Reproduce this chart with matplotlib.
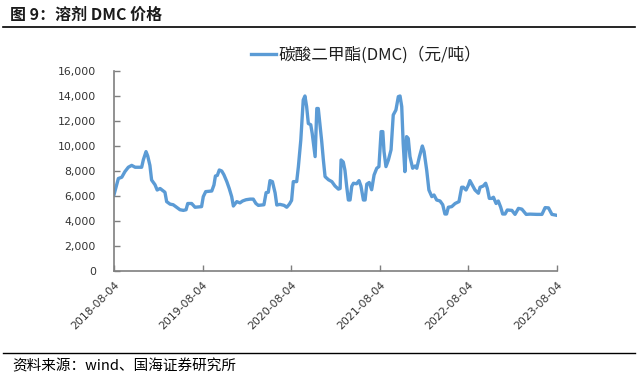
import matplotlib
matplotlib.use("Agg")
import matplotlib.pyplot as plt
from matplotlib.ticker import FuncFormatter
from matplotlib.lines import Line2D
import pandas as pd

plt.rcParams['font.family'] = ['Noto Sans CJK SC', 'DejaVu Sans']

title_text = "图 9：溶剂 DMC 价格"
source_text = "资料来源：wind、国海证券研究所"
series_name = "碳酸二甲酯(DMC)（元/吨）"

dates = [
    "2018-08-04", "2018-08-22", "2018-09-05", "2018-09-18", "2018-10-02", "2018-10-16",
    "2018-10-30", "2018-11-26", "2018-12-03", "2018-12-14", "2018-12-21", "2018-12-30",
    "2019-01-06", "2019-01-20", "2019-01-29", "2019-02-10", "2019-03-02", "2019-03-09",
    "2019-03-23", "2019-04-05", "2019-04-19", "2019-05-03", "2019-05-17", "2019-05-28",
    "2019-06-04", "2019-06-20", "2019-07-04", "2019-07-31", "2019-08-07", "2019-08-17",
    "2019-09-11", "2019-09-20", "2019-09-26", "2019-10-04", "2019-10-12", "2019-10-22",
    "2019-10-31", "2019-11-12", "2019-11-22", "2019-12-02", "2019-12-09", "2019-12-23",
    "2020-01-05", "2020-01-16", "2020-01-30", "2020-02-16", "2020-02-29", "2020-03-11",
    "2020-03-21", "2020-04-13", "2020-04-22", "2020-05-01", "2020-05-08", "2020-05-18",
    "2020-05-29", "2020-06-05", "2020-06-18", "2020-07-05", "2020-07-16", "2020-07-27",
    "2020-08-05", "2020-08-12", "2020-08-26", "2020-09-02", "2020-09-12", "2020-09-22",
    "2020-09-29", "2020-10-06", "2020-10-13", "2020-10-23", "2020-10-29", "2020-11-10",
    "2020-11-17", "2020-11-23", "2020-11-30", "2020-12-07", "2020-12-14", "2020-12-21",
    "2021-01-04", "2021-01-18", "2021-01-31", "2021-02-14", "2021-02-21", "2021-02-25",
    "2021-03-06", "2021-03-13", "2021-03-20", "2021-03-27", "2021-04-03", "2021-04-10",
    "2021-04-17", "2021-04-30", "2021-05-10", "2021-05-18", "2021-05-28", "2021-06-04",
    "2021-06-11", "2021-06-21", "2021-07-01", "2021-07-11", "2021-07-22", "2021-07-31",
    "2021-08-09", "2021-08-16", "2021-08-21", "2021-08-29", "2021-09-08", "2021-09-19",
    "2021-09-28", "2021-10-09", "2021-10-19", "2021-10-26", "2021-11-02", "2021-11-08",
    "2021-11-15", "2021-11-22", "2021-11-29", "2021-12-06", "2021-12-17", "2021-12-27",
    "2022-01-03", "2022-01-14", "2022-01-26", "2022-02-02", "2022-02-13", "2022-02-22",
    "2022-03-06", "2022-03-15", "2022-03-26", "2022-04-09", "2022-04-20", "2022-04-29",
    "2022-05-06", "2022-05-13", "2022-05-27", "2022-06-10", "2022-06-26", "2022-07-07",
    "2022-07-14", "2022-07-25", "2022-08-04", "2022-08-10", "2022-08-20", "2022-08-31",
    "2022-09-14", "2022-09-21", "2022-10-04", "2022-10-14", "2022-10-21", "2022-10-29",
    "2022-11-08", "2022-11-15", "2022-11-26", "2022-12-05", "2022-12-15", "2022-12-23",
    "2023-01-02", "2023-01-11", "2023-01-30", "2023-02-12", "2023-02-26", "2023-03-12",
    "2023-03-30", "2023-04-15", "2023-05-13", "2023-06-03", "2023-06-16", "2023-06-30",
    "2023-07-14", "2023-08-04",
]

prices = [
    6100, 7400, 7500, 7950, 8300, 8450,
    8300, 8300, 8900, 9550, 9200, 8450,
    7280, 6900, 6480, 6600, 6300, 5550,
    5350, 5300, 5100, 4900, 4850, 4900,
    5400, 5400, 5100, 5150, 5950, 6350,
    6400, 6880, 7600, 7650, 8080, 8000,
    7700, 7150, 6600, 5950, 5200, 5550,
    5450, 5600, 5700, 5750, 5750, 5400,
    5250, 5300, 6270, 6300, 7230, 7150,
    6250, 5280, 5330, 5250, 5100, 5350,
    5650, 7150, 7150, 8350, 10480, 13680,
    14000, 13150, 11800, 11700, 11000, 9150,
    13000, 13000, 11700, 10400, 8880, 7550,
    7300, 7150, 6800, 6550, 6600, 8880,
    8720, 8050, 6780, 5680, 5680, 6780,
    7020, 6980, 7230, 6780, 5680, 5680,
    6950, 7080, 6500, 7680, 8220, 8350,
    11150, 11150, 9560, 8350, 8880, 9700,
    12480, 12880, 13950, 14000, 13150, 10200,
    7950, 10750, 10600, 9150, 8220, 8400,
    8220, 9150, 10000, 9560, 8050, 6480,
    5950, 6080, 5680, 5600, 5300, 4560,
    4560, 5100, 5150, 5400, 5550, 6700,
    6700, 6480, 6880, 7230, 6880, 6480,
    6220, 6700, 6800, 7020, 6600, 5810,
    5810, 5900, 5400, 5600, 5100, 4560,
    4560, 4880, 4850, 4530, 5010, 4950,
    4530, 4550, 4530, 4530, 5070, 5050,
    4530, 4450,
]

x_ticks = ["2018-08-04", "2019-08-04", "2020-08-04", "2021-08-04", "2022-08-04", "2023-08-04"]
y_ticks = [0, 2000, 4000, 6000, 8000, 10000, 12000, 14000, 16000]

line_color = "#5B9BD5"
axis_color = "#7F7F7F"
text_color = "#333333"

fig = plt.figure(figsize=(6.38, 3.80), dpi=100)
ax = fig.add_axes([114 / 638, 1 - 271 / 380, (557 - 114) / 638, 200 / 380])

d = pd.to_datetime(dates)
ax.plot(d, prices, color=line_color, lw=2.4, solid_joinstyle="round")

xt = pd.to_datetime(x_ticks)
ax.set_xlim(xt[0], xt[-1])
ax.set_ylim(y_ticks[0], y_ticks[-1])
ax.set_xticks(xt)
ax.set_xticklabels([t.strftime("%Y-%m-%d") for t in xt], rotation=45, ha="right",
                   rotation_mode="anchor", fontsize=7.8, color=text_color, family="DejaVu Sans")
ax.set_yticks(y_ticks)
ax.yaxis.set_major_formatter(FuncFormatter(lambda v, p: f"{int(v):,}"))
for lab in ax.get_yticklabels():
    lab.set_fontsize(7.8)
    lab.set_color(text_color)
    lab.set_family("DejaVu Sans")

ax.tick_params(axis="both", direction="in", length=4, width=1, color=axis_color)
ax.tick_params(axis="y", pad=13)
ax.tick_params(axis="x", pad=6)
for s in ["top", "right"]:
    ax.spines[s].set_visible(False)
for s in ["left", "bottom"]:
    ax.spines[s].set_color(axis_color)
    ax.spines[s].set_linewidth(1.2)

handle = Line2D([], [], color=line_color, lw=2.4)
fig.legend([handle], [series_name], loc="center left",
           bbox_to_anchor=(243 / 638, 1 - 55 / 380), frameon=False, borderpad=0,
           handlelength=1.45, handletextpad=0.15, fontsize=12, labelcolor="#1f1f1f")

fig.text(10 / 638, 1 - 15 / 380, title_text, fontsize=11.5, fontweight="bold",
         va="center", ha="left", color="#1a1a1a")
fig.add_artist(Line2D([3 / 638, 635 / 638], [1 - 27 / 380, 1 - 27 / 380],
                      color="black", lw=1.2, transform=fig.transFigure))
fig.add_artist(Line2D([3 / 638, 635 / 638], [1 - 353 / 380, 1 - 353 / 380],
                      color="black", lw=1.0, transform=fig.transFigure))
fig.text(12 / 638, 1 - 366 / 380, source_text, fontsize=10.5,
         va="center", ha="left", color="black")

fig.savefig("out.png", dpi=100)
